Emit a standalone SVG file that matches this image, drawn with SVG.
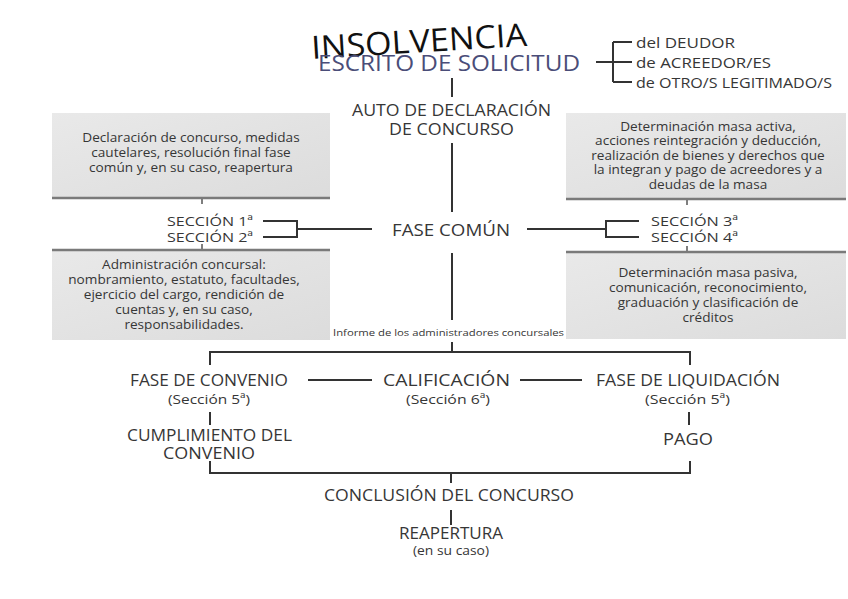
<svg xmlns="http://www.w3.org/2000/svg" width="848" height="599" viewBox="0 0 848 599">
<defs>
<linearGradient id="g" x1="0" y1="0" x2="1" y2="1">
<stop offset="0" stop-color="#e9e9e9"/>
<stop offset="1" stop-color="#dcdcdc"/>
</linearGradient>
<style>
.t{font-family:"Open Sans","Noto Sans",sans-serif;fill:#363636;}
.c{text-anchor:middle;}
.ln{stroke:#333;stroke-width:2;fill:none;}
.tk{stroke:#555;stroke-width:1.5;fill:none;}
.box{fill:url(#g);}
.sep{stroke:#7a7a7a;stroke-width:2.5;}
.bx{font-size:12.5px;}
.m{font-size:15.5px;}
.s{font-size:13.5px;}
.ap{font-size:14px;}
</style>
</defs>
<rect width="848" height="599" fill="#fff"/>

<g id="connectors">
<path class="ln" d="M596 62 H621 M613 42 V82 M613 42 H632 M613 62 H632 M613 82 H632"/>
<path class="ln" d="M452 78 V97 M452 143 V212 M452 253 V320 M452 342 V352"/>
<path class="ln" d="M263 221 H297 V237 H263 M297 229 H372"/>
<path class="ln" d="M639 221 H606 V237 H639 M606 229 H527"/>
<path class="tk" d="M202 198 V204 M202 244 V250 M687 199 V205 M687 246 V252"/>
<path class="ln" d="M210 365 V352 H690 V365"/>
<path class="ln" d="M308 380 H372 M520 380 H582"/>
<path class="ln" d="M210 412 V425 M689 412 V425"/>
<path class="ln" d="M210 461 V473 H690 V461 M451 473 V483"/>
<path class="ln" d="M451 510 V525"/>
</g>

<g id="title">
<text class="t" x="312" y="59" font-size="32" style="fill:#111" textLength="216" lengthAdjust="spacingAndGlyphs" transform="rotate(-3.5 312 59)">INSOLVENCIA</text>
</g>

<g id="escrito">
<text class="t" x="318" y="70.5" font-size="22.5" style="fill:#4a4d78" textLength="262" lengthAdjust="spacingAndGlyphs">ESCRITO DE SOLICITUD</text>
</g>

<g id="solicitantes">
<text class="t ap" x="636" y="48" textLength="99" lengthAdjust="spacingAndGlyphs">del DEUDOR</text>
<text class="t ap" x="636" y="68" textLength="135" lengthAdjust="spacingAndGlyphs">de ACREEDOR/ES</text>
<text class="t ap" x="636" y="88" textLength="196" lengthAdjust="spacingAndGlyphs">de OTRO/S LEGITIMADO/S</text>
</g>

<g id="auto">
<text class="t m c" x="451.5" y="116" textLength="199" lengthAdjust="spacingAndGlyphs">AUTO DE DECLARACIÓN</text>
<text class="t m c" x="451.5" y="135" textLength="125" lengthAdjust="spacingAndGlyphs">DE CONCURSO</text>
</g>

<g id="box-s1">
<rect class="box" x="52" y="113" width="278" height="85"/>
<line class="sep" x1="52" y1="198" x2="330" y2="198"/>
<g transform="translate(191 0) scale(1.09 1) translate(-191 0)">
<text class="t bx c" x="191" y="142">Declaración de concurso, medidas</text>
<text class="t bx c" x="191" y="157">cautelares, resolución final fase</text>
<text class="t bx c" x="191" y="172">común y, en su caso, reapertura</text>
</g>
</g>

<g id="box-s2">
<rect class="box" x="52" y="250" width="278" height="90"/>
<line class="sep" x1="52" y1="250" x2="330" y2="250"/>
<g transform="translate(184 0) scale(1.09 1) translate(-184 0)">
<text class="t bx c" x="184" y="269">Administración concursal:</text>
<text class="t bx c" x="184" y="284">nombramiento, estatuto, facultades,</text>
<text class="t bx c" x="184" y="299">ejercicio del cargo, rendición de</text>
<text class="t bx c" x="184" y="314">cuentas y, en su caso,</text>
<text class="t bx c" x="184" y="329">responsabilidades.</text>
</g>
</g>

<g id="secciones-12">
<text class="t s" x="167" y="226" textLength="86" lengthAdjust="spacingAndGlyphs">SECCIÓN 1ª</text>
<text class="t s" x="167" y="242" textLength="86" lengthAdjust="spacingAndGlyphs">SECCIÓN 2ª</text>
</g>

<g id="fase-comun">
<text class="t c" x="451" y="236" font-size="16.5" textLength="118" lengthAdjust="spacingAndGlyphs">FASE COMÚN</text>
</g>

<g id="secciones-34">
<text class="t s" x="651" y="226" textLength="87" lengthAdjust="spacingAndGlyphs">SECCIÓN 3ª</text>
<text class="t s" x="651" y="242" textLength="87" lengthAdjust="spacingAndGlyphs">SECCIÓN 4ª</text>
</g>

<g id="box-s3">
<rect class="box" x="566" y="113" width="280" height="86"/>
<line class="sep" x1="566" y1="199" x2="846" y2="199"/>
<g transform="translate(708 0) scale(1.09 1) translate(-708 0)">
<text class="t bx c" x="708" y="131">Determinación masa activa,</text>
<text class="t bx c" x="708" y="145.5">acciones reintegración y deducción,</text>
<text class="t bx c" x="708" y="160">realización de bienes y derechos que</text>
<text class="t bx c" x="708" y="174.5">la integran y pago de acreedores y a</text>
<text class="t bx c" x="708" y="189">deudas de la masa</text>
</g>
</g>

<g id="box-s4">
<rect class="box" x="566" y="252" width="280" height="87"/>
<line class="sep" x1="566" y1="252" x2="846" y2="252"/>
<g transform="translate(708 0) scale(1.09 1) translate(-708 0)">
<text class="t bx c" x="708" y="277">Determinación masa pasiva,</text>
<text class="t bx c" x="708" y="292">comunicación, reconocimiento,</text>
<text class="t bx c" x="708" y="307">graduación y clasificación de</text>
<text class="t bx c" x="708" y="322">créditos</text>
</g>
</g>

<g id="informe">
<text class="t c" x="448.5" y="336" font-size="9.8" textLength="231" lengthAdjust="spacingAndGlyphs">Informe de los administradores concursales</text>
</g>

<g id="convenio">
<text class="t m c" x="209" y="386" textLength="158" lengthAdjust="spacingAndGlyphs">FASE DE CONVENIO</text>
<text class="t s c" x="209" y="404" textLength="82" lengthAdjust="spacingAndGlyphs">(Sección 5ª)</text>
</g>

<g id="calificacion">
<text class="t m c" x="446.5" y="386" textLength="127" lengthAdjust="spacingAndGlyphs">CALIFICACIÓN</text>
<text class="t s c" x="448" y="404" textLength="84" lengthAdjust="spacingAndGlyphs">(Sección 6ª)</text>
</g>

<g id="liquidacion">
<text class="t m c" x="688" y="386" textLength="184" lengthAdjust="spacingAndGlyphs">FASE DE LIQUIDACIÓN</text>
<text class="t s c" x="687.5" y="404" textLength="85" lengthAdjust="spacingAndGlyphs">(Sección 5ª)</text>
</g>

<g id="cumplimiento">
<text class="t m c" x="209.5" y="441" textLength="165" lengthAdjust="spacingAndGlyphs">CUMPLIMIENTO DEL</text>
<text class="t m c" x="209" y="459" textLength="92" lengthAdjust="spacingAndGlyphs">CONVENIO</text>
</g>

<g id="pago">
<text class="t m c" x="688" y="445" textLength="50" lengthAdjust="spacingAndGlyphs">PAGO</text>
</g>

<g id="conclusion">
<text class="t m c" x="449" y="501" textLength="250" lengthAdjust="spacingAndGlyphs">CONCLUSIÓN DEL CONCURSO</text>
</g>

<g id="reapertura">
<text class="t m c" x="451" y="539" textLength="104" lengthAdjust="spacingAndGlyphs">REAPERTURA</text>
<text class="t s c" x="451" y="555" textLength="76" lengthAdjust="spacingAndGlyphs">(en su caso)</text>
</g>
</svg>
